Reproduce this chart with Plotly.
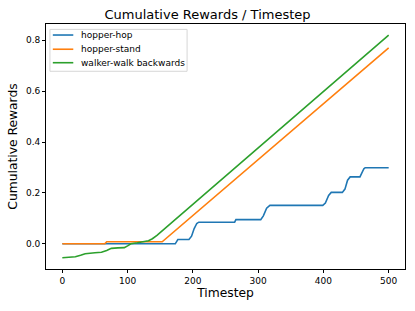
import plotly.graph_objects as go

hop_x = [0, 173, 177, 194, 198, 202, 206, 209, 264, 266, 304, 308, 313, 318, 399, 403, 408, 412, 429, 433, 437, 441, 456, 459, 462, 464, 500]
hop_y = [0.0, 0.0, 0.017, 0.017, 0.03, 0.06, 0.08, 0.085, 0.085, 0.095, 0.095, 0.11, 0.14, 0.151, 0.151, 0.16, 0.19, 0.202, 0.202, 0.215, 0.25, 0.263, 0.263, 0.28, 0.295, 0.299, 0.299]

stand_x = [0, 65, 68, 153, 500]
stand_y = [0.0, 0.0, 0.008, 0.008, 0.77]

walk_x = [0, 10, 20, 28, 35, 50, 60, 68, 75, 85, 95, 100, 105, 115, 125, 132, 138, 145, 500]
walk_y = [-0.055, -0.053, -0.051, -0.045, -0.039, -0.035, -0.033, -0.026, -0.018, -0.016, -0.015, -0.008, 0.0, 0.004, 0.009, 0.012, 0.02, 0.033, 0.82]

names = ["hopper-hop", "hopper-stand", "walker-walk backwards"]
colors = ["#1f77b4", "#ff7f0e", "#2ca02c"]

fig = go.Figure()
for xs, ys, n, c in zip([hop_x, stand_x, walk_x], [hop_y, stand_y, walk_y], names, colors):
    fig.add_trace(go.Scatter(x=xs, y=ys, mode="lines", name=n,
                             line=dict(color=c, width=1.6), showlegend=False))

# matplotlib-style legend box (compact spacing)
shapes = [dict(type="rect", xref="paper", yref="paper", x0=0.011, x1=0.393, y0=0.807, y1=0.978,
               line=dict(color="#d6d6d6", width=1), fillcolor="rgba(255,255,255,0.8)", layer="above")]
annotations = []
leg_y = [0.955, 0.897, 0.842]
for n, c, ly in zip(names, colors, leg_y):
    shapes.append(dict(type="line", xref="paper", yref="paper", x0=0.019, x1=0.076, y0=ly, y1=ly,
                       line=dict(color=c, width=1.6), layer="above"))
    annotations.append(dict(text=n, xref="paper", yref="paper", x=0.093, y=ly, xanchor="left",
                            yanchor="middle", showarrow=False, font=dict(size=9)))

fig.update_layout(
    width=415, height=311,
    margin=dict(l=46, r=10, t=24, b=42),
    paper_bgcolor="white", plot_bgcolor="white",
    font=dict(family="DejaVu Sans", color="black", size=9),
    title=dict(text="Cumulative Rewards / Timestep", x=0.5, xanchor="center",
               y=0.953, yanchor="middle", font=dict(size=13)),
    showlegend=False,
    shapes=shapes, annotations=annotations,
)
fig.update_xaxes(range=[-25, 525], tickvals=[0, 100, 200, 300, 400, 500],
                 ticks="outside", ticklen=3, tickcolor="black", automargin=False,
                 showline=True, linecolor="black", linewidth=0.8, mirror=True,
                 showgrid=False, zeroline=False,
                 title=dict(text="Timestep", font=dict(size=12.3), standoff=2))
fig.update_yaxes(range=[-0.099, 0.864], tickvals=[0.0, 0.2, 0.4, 0.6, 0.8],
                 ticktext=["0.0", "0.2", "0.4", "0.6", "0.8"],
                 ticks="outside", ticklen=3, tickcolor="black", automargin=False,
                 showline=True, linecolor="black", linewidth=0.8, mirror=True,
                 showgrid=False, zeroline=False,
                 title=dict(text="Cumulative Rewards", font=dict(size=12.3), standoff=5))

fig.write_html("out.html", config={"displayModeBar": False},
               post_script="document.body.style.margin='0';")
